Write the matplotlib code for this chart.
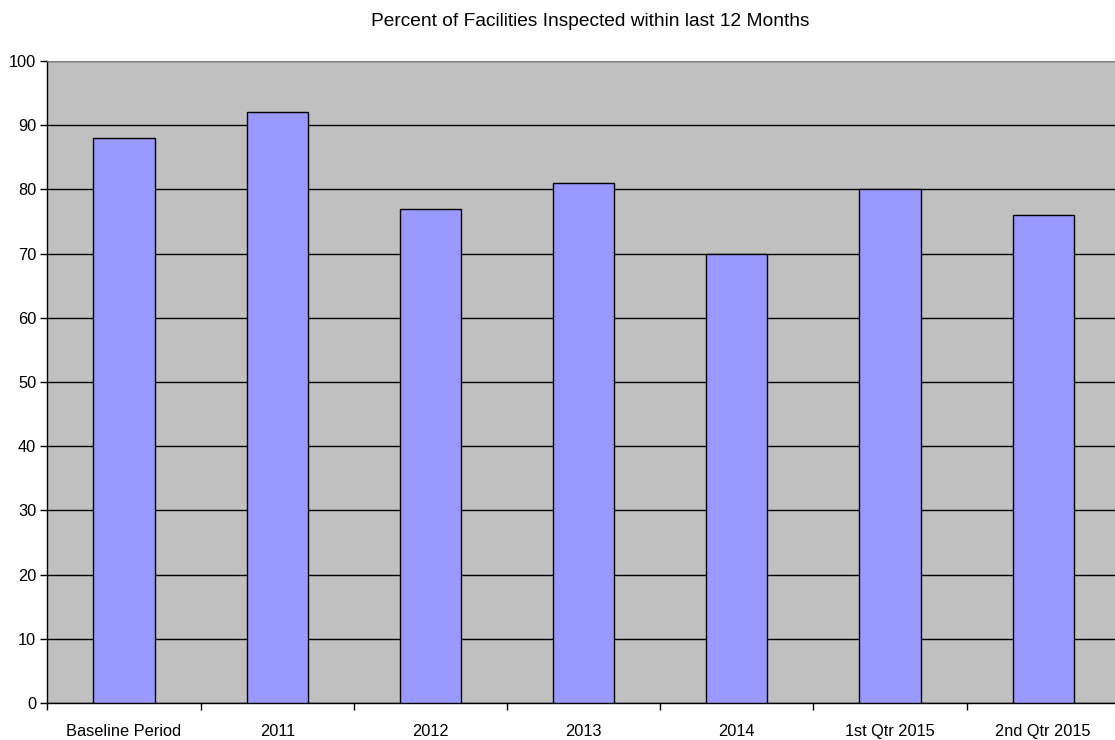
import matplotlib
matplotlib.use("Agg")
import matplotlib.pyplot as plt
import numpy as np

categories = ["Baseline Period", "2011", "2012", "2013", "2014", "1st Qtr 2015", "2nd Qtr 2015"]
values = [88, 92, 77, 81, 70, 80, 76]
yticks = list(range(0, 101, 10))
title = "Percent of Facilities Inspected within last 12 Months"

plt.rcParams['font.family'] = ['Liberation Sans', 'DejaVu Sans']

fig = plt.figure(figsize=(11.15, 7.4), dpi=100)
ax = fig.add_axes([0.0425, 0.05, 0.9618, 0.8676])
ax.set_facecolor('#C0C0C0')

x = np.arange(len(categories))
ax.bar(x, values, width=0.4, color='#9999FF', edgecolor='black', linewidth=1, zorder=3)

ax.set_xlim(-0.5, len(categories) - 0.5)
ax.set_ylim(0, 100)
ax.set_yticks(yticks)
ax.yaxis.grid(True, color='black', linewidth=1, zorder=1)
ax.set_axisbelow(True)

ax.set_xticks(x)
ax.set_xticklabels(categories, fontsize=11.8)
ax.set_xticks(np.arange(len(categories) + 1) - 0.5, minor=True)
ax.tick_params(axis='x', which='major', length=0, pad=15)
ax.tick_params(axis='x', which='minor', length=5, width=1, color='black', direction='out')
ax.tick_params(axis='y', labelsize=11.8, length=5, width=1, direction='out', pad=3)

for s in ['left', 'bottom']:
    ax.spines[s].set_color('black')
    ax.spines[s].set_linewidth(1)
ax.spines['top'].set_color('#808080')
ax.spines['right'].set_color('#808080')

fig.text(590 / 1115, 1 - 22 / 740, title, ha='center', va='center', fontsize=13.8)

fig.savefig("out.png", dpi=100)
